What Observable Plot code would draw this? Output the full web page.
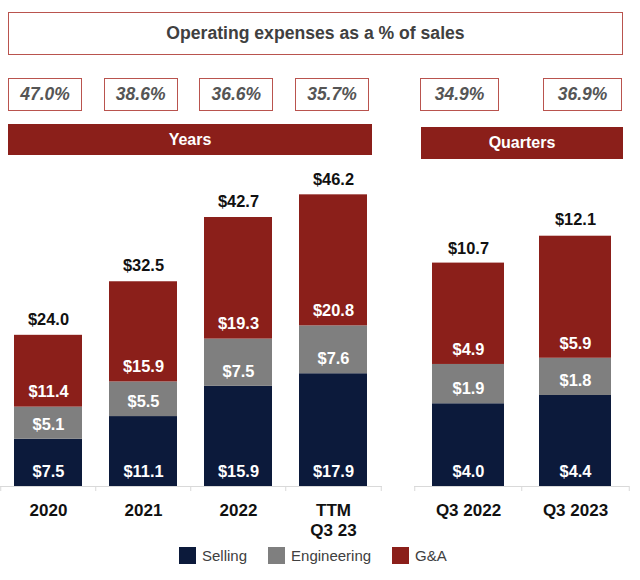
<!DOCTYPE html>
<html>
<head>
<meta charset="utf-8">
<script src="https://cdn.jsdelivr.net/npm/d3@7"></script>
<script src="https://cdn.jsdelivr.net/npm/@observablehq/plot@0.6"></script>
<style>
  html, body { margin: 0; padding: 0; background: #fff; }
  #root { position: relative; width: 640px; height: 580px; overflow: hidden; font-family: "Liberation Sans", Arial, sans-serif; }
  .box { position: absolute; box-sizing: border-box; border: 1.5px solid #b9534e; background: #fff; display: flex; align-items: center; justify-content: center; }
  .title { left: 8px; top: 12px; width: 615px; height: 43px; font-size: 17.6px; font-weight: bold; color: #404040; }
  .pctrow { position: absolute; top: 78px; height: 33px; display: flex; justify-content: space-between; }
  .pct { position: relative; box-sizing: border-box; border: 1.5px solid #b9534e; height: 33px; display: flex; align-items: center; justify-content: center; font-size: 17.5px; font-weight: bold; font-style: italic; color: #555; }
  .banner { position: absolute; background: #8b1f1a; color: #fff; font-weight: bold; font-size: 16px; display: flex; align-items: center; justify-content: center; }
  .panel { position: absolute; top: 160px; }
  .legend { position: absolute; left: 179px; top: 547px; display: flex; gap: 21px; font-size: 15px; color: #404040; }
  .legend .item { display: flex; align-items: center; height: 17px; }
  .legend .sw { width: 17px; height: 17px; margin-right: 6px; }
</style>
</head>
<body>
<div id="root"></div>
<script>
// ---- data ----
const series = ["Selling", "Engineering", "G&A"];
const seriesColors = ["#0c1a3b", "#7f7f7f", "#8b1f1a"];

const yearCats = ["2020", "2021", "2022", "TTM\nQ3 23"];
const yearSelling = [7.5, 11.1, 15.9, 17.9];
const yearEngineering = [5.1, 5.5, 7.5, 7.6];
const yearGA = [11.4, 15.9, 19.3, 20.8];
const yearTotals = [24.0, 32.5, 42.7, 46.2];
const yearPct = [47.0, 38.6, 36.6, 35.7];

const quarterCats = ["Q3 2022", "Q3 2023"];
const quarterSelling = [4.0, 4.4];
const quarterEngineering = [1.9, 1.8];
const quarterGA = [4.9, 5.9];
const quarterTotals = [10.7, 12.1];
const quarterPct = [34.9, 36.9];

const titleText = "Operating expenses as a % of sales";

// ---- layout ----
const root = document.getElementById("root");
function el(tag, cls, parent, text) {
  const e = document.createElement(tag);
  if (cls) e.className = cls;
  if (text != null) e.textContent = text;
  parent.appendChild(e);
  return e;
}

el("div", "box title", root, titleText);

function pctRow(values, left, width, boxW) {
  const row = el("div", "pctrow", root);
  row.style.left = left + "px";
  row.style.width = width + "px";
  values.forEach(v => {
    const b = el("div", "pct", row, v.toFixed(1) + "%");
    b.style.width = boxW + "px";
  });
}
pctRow(yearPct, 8, 361, 74);
pctRow(quarterPct, 420, 202, 79);

const by = el("div", "banner", root, "Years");
Object.assign(by.style, {left: "8px", top: "124px", width: "364px", height: "31px"});
const bq = el("div", "banner", root, "Quarters");
Object.assign(bq.style, {left: "421px", top: "127px", width: "202px", height: "32px"});

function panel(cats, sel, eng, ga, totals, cfg) {
  const rows = [];
  cats.forEach((c, i) => {
    rows.push({cat: c, series: series[0], value: sel[i]});
    rows.push({cat: c, series: series[1], value: eng[i]});
    rows.push({cat: c, series: series[2], value: ga[i]});
  });
  const tot = cats.map((c, i) => ({cat: c, total: totals[i]}));
  const step = (cfg.width - cfg.marginLeft - cfg.marginRight) / cats.length;
  const fmt = v => "$" + v.toFixed(1);
  return Plot.plot({
    width: cfg.width,
    height: 380,
    marginTop: 0,
    marginBottom: 54,
    marginLeft: cfg.marginLeft,
    marginRight: cfg.marginRight,
    x: {domain: cats, paddingInner: cfg.pad, paddingOuter: cfg.pad / 2},
    y: {domain: [0, cfg.yMax], axis: null},
    color: {domain: series, range: seriesColors},
    style: {fontFamily: "'Liberation Sans', Arial, sans-serif", background: "transparent", overflow: "visible"},
    marks: [
      Plot.barY(rows, {x: "cat", y: "value", fill: "series", order: series}),
      Plot.ruleY([0], {stroke: "#d9d9d9", strokeWidth: 1.2}),
      Plot.axisX({tickSize: 5, tickFormat: () => "", dx: -step / 2, stroke: "#d9d9d9", label: null}),
      Plot.axisX({ticks: [cats[cats.length - 1]], tickSize: 5, tickFormat: () => "", dx: step / 2, stroke: "#d9d9d9", label: null}),
      Plot.axisX({tickSize: 0, tickPadding: 15, fontSize: 17, fontWeight: "bold", fill: "#111", label: null, lineHeight: 1.18}),
      Plot.text(rows, Plot.stackY1({x: "cat", y: "value", z: "series", order: series, text: d => fmt(d.value), dy: -15, fill: "white", fontSize: 16.4, fontWeight: "bold"})),
      Plot.text(tot, {x: "cat", y: "total", text: d => fmt(d.total), dy: -16, fill: "#111", fontSize: 16.4, fontWeight: "bold"})
    ]
  });
}

const pY = panel(yearCats, yearSelling, yearEngineering, yearGA, yearTotals,
  {width: 382, marginLeft: 0, marginRight: 0, yMax: 51.75, pad: 0.28});
pY.classList.add("panel");
pY.style.left = "0px";
root.appendChild(pY);

const pQ = panel(quarterCats, quarterSelling, quarterEngineering, quarterGA, quarterTotals,
  {width: 240, marginLeft: 14, marginRight: 11, yMax: 15.76, pad: 0.33});
pQ.classList.add("panel");
pQ.style.left = "400px";
root.appendChild(pQ);

const legend = el("div", "legend", root);
series.forEach((s, i) => {
  const it = el("div", "item", legend);
  const sw = el("div", "sw", it);
  sw.style.background = seriesColors[i];
  el("span", null, it, s);
});
</script>
</body>
</html>
